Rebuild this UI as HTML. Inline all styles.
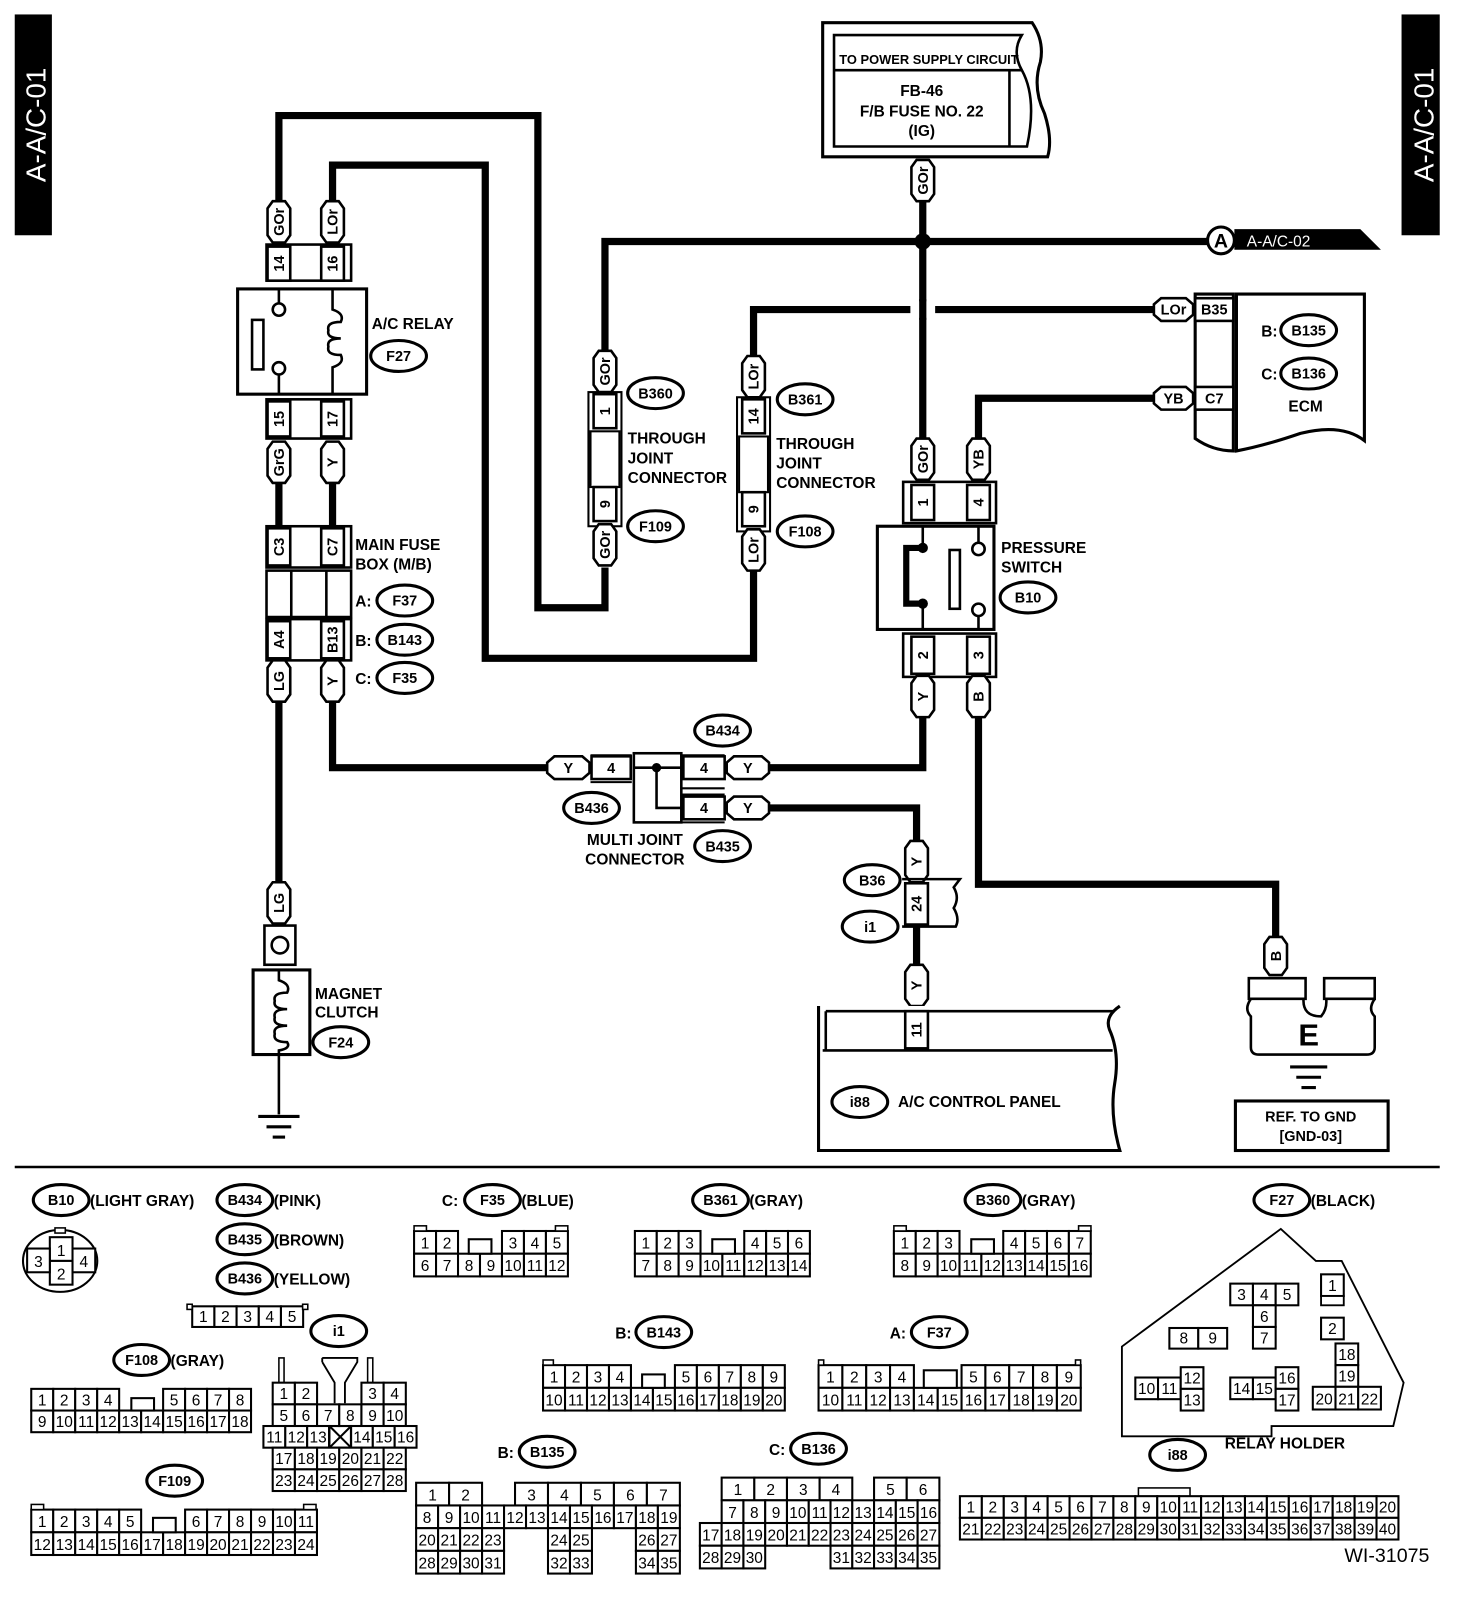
<!DOCTYPE html>
<html><head><meta charset="utf-8"><style>
html,body{margin:0;padding:0;background:#fff;width:1472px;height:1620px;overflow:hidden}
svg{display:block}
text{font-family:"Liberation Sans",sans-serif;fill:#000}
.b{font-weight:bold}
.n{font-family:"Liberation Sans Narrow","Liberation Sans",sans-serif;font-size:15px}
</style></head><body>
<svg id="s" width="1472" height="1620" viewBox="0 0 1426 1570" xmlns="http://www.w3.org/2000/svg"></svg>
<script>
let o='';
const K='stroke="#000" fill="none"';
function L(pts,w){o+=`<polyline points="${pts}" ${K} stroke-width="${w||7}" stroke-linejoin="miter"/>`;}
function R(x,y,w,h,sw,f){o+=`<rect x="${x}" y="${y}" width="${w}" height="${h}" stroke="#000" stroke-width="${sw||2.5}" fill="${f||'#fff'}"/>`;}
function T(x,y,s,sz,anc,cls,rot,fill){o+=`<text x="${x}" y="${y}" font-size="${sz||15}" text-anchor="${anc||'start'}" class="${cls===undefined?'b':cls}" ${rot?`transform="rotate(-90 ${x} ${y})"`:''} ${fill?`style="fill:${fill}"`:''}>${s}</text>`;}
function VT(x,y1,y2,s){o+=`<polygon points="${x-11},${y1+7} ${x-6},${y1} ${x+6},${y1} ${x+11},${y1+7} ${x+11},${y2-7} ${x+6},${y2} ${x-6},${y2} ${x-11},${y2-7}" stroke="#000" stroke-width="2.5" fill="#fff"/>`;
 const cy=(y1+y2)/2;o+=`<text x="${x+5}" y="${cy}" font-size="14" text-anchor="middle" class="b" transform="rotate(-90 ${x+5} ${cy})">${s}</text>`;}
function HT(x1,x2,y,s){o+=`<polygon points="${x1+7},${y-11} ${x2-7},${y-11} ${x2},${y-5} ${x2},${y+5} ${x2-7},${y+11} ${x1+7},${y+11} ${x1},${y+5} ${x1},${y-5}" stroke="#000" stroke-width="2.5" fill="#fff"/>`;T((x1+x2)/2,y+5,s,14,'middle');}
function VP(x,y1,y2,s){R(x-11,y1,22,y2-y1);const cy=(y1+y2)/2;o+=`<text x="${x+5}" y="${cy}" font-size="14" text-anchor="middle" class="b" transform="rotate(-90 ${x+5} ${cy})">${s}</text>`;}
function HP(x1,x2,y,s){R(x1,y-11,x2-x1,22);T((x1+x2)/2,y+5,s,14,'middle');}
function OV(cx,cy,s){o+=`<ellipse cx="${cx}" cy="${cy}" rx="27" ry="15" stroke="#000" stroke-width="3" fill="#fff"/>`;T(cx,cy+5,s,14,'middle');}
function G(x,y,cw,ch,rows){rows.forEach((r,ri)=>{let cx=x;r.split(' ').forEach(c=>{let [t,w]=c.split(':');w=w?parseFloat(w):1;if(t!=='_'){R(cx,y+ri*ch,cw*w,ch,2);T(cx+cw*w/2,y+ri*ch+ch-5,t,15,'middle','n');}cx+=cw*w;});});}

// side tabs
o+=`<rect x="14" y="14" width="36" height="214" fill="#000"/><rect x="1358" y="14" width="37" height="214" fill="#000"/>`;
T(44,121,'A-A/C-01',27,'middle','',1,'#fff');T(1389,121,'A-A/C-01',27,'middle','',1,'#fff');

// wires
L('586,550 586,589 521,589 521,112 270,112 270,198');
L('730,552 730,638 470,638 470,160 322,160 322,198');
L('586,342 586,234 1172,234');
L('894,195 894,428');
L('730,347 730,300 1120,300');
o+=`<rect x="882" y="292" width="24" height="16" fill="#fff"/>`;L('894,290 894,310');
L('948,428 948,386 1120,386');
L('270,468 270,510');L('322,468 322,510');
L('270,680 270,858');
L('322,680 322,744 532,744');
L('894,695 894,744 743,744');
L('743,783 888,783 888,818');
L('888,895 888,938');
L('948,695 948,857 1236,857 1236,912');
o+=`<circle cx="894" cy="234" r="8" fill="#000"/>`;

// power supply box
o+=`<path d="M797,22 L1000,22 Q1012,40 1008,60 Q1000,85 1012,110 Q1020,135 1015,152 L797,152 Z" stroke="#000" stroke-width="3" fill="#fff"/>`;
o+=`<path d="M808,34 L990,34 Q980,50 990,68 L808,68 Z M808,68 L990,68 Q1005,95 995,142 L808,142 Z" stroke="#000" stroke-width="2.5" fill="none"/>`;
o+=`<line x1="978" y1="68" x2="978" y2="142" stroke="#000" stroke-width="2.5"/>`;
T(900,62,'TO POWER SUPPLY CIRCUIT',12.5,'middle');
T(893,93,'FB-46',15,'middle');T(893,113,'F/B FUSE NO. 22',15,'middle');T(893,132,'(IG)',15,'middle');
VT(894,155,195,'GOr');

// A connector
o+=`<polygon points="1196,222 1318,222 1338,242 1196,242" fill="#000"/>`;
o+=`<circle cx="1183" cy="233" r="13" stroke="#000" stroke-width="3" fill="#fff"/>`;T(1183,240,'A',19,'middle');
T(1208,239,'A-A/C-02',15,'start','',0,'#fff');

// A/C relay
VT(270,195,235,'GOr');VT(322,195,235,'LOr');
R(258,237,82,35,2.5);VP(270,239,272,'14');VP(322,239,272,'16');
R(230,280,125,102,3);
o+=`<line x1="270" y1="280" x2="270" y2="294" stroke="#000" stroke-width="2.5"/><line x1="270" y1="363" x2="270" y2="382" stroke="#000" stroke-width="2.5"/>`;
o+=`<circle cx="270" cy="300" r="6" stroke="#000" stroke-width="2.5" fill="#fff"/><circle cx="270" cy="357" r="6" stroke="#000" stroke-width="2.5" fill="#fff"/>`;
R(244,310,11,48,2.5);
o+=`<path d="M322,280 L322,300 Q334,304 330,312 Q316,312 318,320 Q316,328 330,328 Q316,328 318,336 Q316,344 330,344 Q334,352 322,356 L322,382" ${K} stroke-width="2.5"/>`;
T(360,319,'A/C RELAY',15);OV(386,345,'F27');
R(258,387,82,38,2.5);VP(270,389,423,'15');VP(322,389,423,'17');
VT(270,428,468,'GrG');VT(322,428,468,'Y');

// main fuse box
R(258,510,82,40,2.5);VP(270,512,548,'C3');VP(322,512,548,'C7');
R(258,553,82,45,2.5);o+=`<line x1="282" y1="553" x2="282" y2="598" stroke="#000" stroke-width="2.5"/><line x1="316" y1="553" x2="316" y2="598" stroke="#000" stroke-width="2.5"/>`;
R(258,600,82,40,2.5);VP(270,602,638,'A4');VP(322,602,638,'B13');
T(344,533,'MAIN FUSE',15);T(344,552,'BOX (M/B)',15);
T(344,588,'A:',15);OV(392,582,'F37');T(344,626,'B:',15);OV(392,620,'B143');T(344,663,'C:',15);OV(392,657,'F35');
VT(270,640,680,'LG');VT(322,640,680,'Y');

// magnet clutch
VT(270,855,895,'LG');
R(256,897,30,38,2.5);o+=`<circle cx="271" cy="916" r="8" stroke="#000" stroke-width="2.5" fill="#fff"/>`;
R(245,940,55,82,3);
o+=`<path d="M270,940 L270,950 Q282,954 278,962 Q264,962 266,970 Q264,978 278,978 Q264,978 266,986 Q264,994 278,994 Q264,994 266,1002 Q264,1010 278,1010 Q282,1016 270,1018 L270,1022" ${K} stroke-width="2.5"/>`;
T(305,968,'MAGNET',15);T(305,986,'CLUTCH',15);OV(330,1010,'F24');
L('270,1022 270,1080',2.5);
o+=`<line x1="250" y1="1082" x2="290" y2="1082" stroke="#000" stroke-width="3"/><line x1="258" y1="1092" x2="282" y2="1092" stroke="#000" stroke-width="3"/><line x1="264" y1="1102" x2="276" y2="1102" stroke="#000" stroke-width="3"/>`;

// B360 / B361 through joint
function TJ(x,t1,p1,p2,t2,o1,o2,txt,ya){VT(x,t1,t1+40,ya);R(x-16,p1-2,32,p2-p1+40,2);
 o+=`<rect x="${x-14}" y="${p1+36}" width="28" height="${p2-p1-36}" stroke="#000" stroke-width="2" fill="#fff"/>`;
 VP(x,p1,p1+33,o1);VP(x,p2,p2+33,o2);VT(x,p2+36,p2+76,ya);}
TJ(586,340,382,472,0,'1','9',0,'GOr');
OV(635,381,'B360');OV(635,510,'F109');T(608,430,'THROUGH',15);T(608,449,'JOINT',15);T(608,468,'CONNECTOR',15);
TJ(730,345,387,477,0,'14','9',0,'LOr');
OV(780,387,'B361');OV(780,515,'F108');T(752,435,'THROUGH',15);T(752,454,'JOINT',15);T(752,473,'CONNECTOR',15);

// ECM
HT(1118,1156,300,'LOr');HT(1118,1156,386,'YB');
o+=`<path d="M1158,285 L1195,285 L1195,437 Q1175,437 1158,425 Z" stroke="#000" stroke-width="3" fill="#fff"/>`;
HP(1158,1195,300,'B35');HP(1158,1195,386,'C7');
o+=`<path d="M1198,285 L1322,285 L1322,427 Q1300,410 1260,420 Q1225,432 1198,437 Z" stroke="#000" stroke-width="3" fill="#fff"/>`;
T(1222,326,'B:',15);OV(1268,320,'B135');T(1222,368,'C:',15);OV(1268,362,'B136');T(1265,399,'ECM',15,'middle');

// pressure switch
VT(894,425,465,'GOr');VT(948,425,465,'YB');
R(875,467,90,40,2.5);VP(894,470,504,'1');VP(948,470,504,'4');
R(850,510,113,100,3);
o+=`<line x1="894" y1="510" x2="894" y2="530" stroke="#000" stroke-width="2.5"/><line x1="894" y1="585" x2="894" y2="610" stroke="#000" stroke-width="2.5"/>`;
o+=`<path d="M894,531 L878,531 L878,585 L894,585" ${K} stroke-width="6"/><circle cx="894" cy="531" r="5" fill="#000"/><circle cx="894" cy="585" r="5" fill="#000"/>`;
R(920,533,10,57,2.5);
o+=`<line x1="948" y1="510" x2="948" y2="526" stroke="#000" stroke-width="2.5"/><line x1="948" y1="597" x2="948" y2="610" stroke="#000" stroke-width="2.5"/>`;
o+=`<circle cx="948" cy="532" r="6" stroke="#000" stroke-width="2.5" fill="#fff"/><circle cx="948" cy="591" r="6" stroke="#000" stroke-width="2.5" fill="#fff"/>`;
T(970,536,'PRESSURE',15);T(970,555,'SWITCH',15);OV(996,579,'B10');
R(875,614,90,42,2.5);VP(894,617,653,'2');VP(948,617,653,'3');
VT(894,655,695,'Y');VT(948,655,695,'B');

// multi joint
HT(530,571,744,'Y');
o+=`<path d="M572,732 L612,732 M572,758 L612,758 M660,732 L702,732 M660,797 L702,797 M660,764 L702,764 M660,770 L702,770" ${K} stroke-width="2"/>`;
HP(573,611,744,'4');
R(614,730,46,67,2.5);
o+=`<path d="M614,744 L660,744 M636,744 L636,783 L660,783" ${K} stroke-width="2.5"/><circle cx="636" cy="744" r="4.5" fill="#000"/>`;
HP(662,702,744,'4');HP(662,702,783,'4');HT(704,745,744,'Y');HT(704,745,783,'Y');
OV(700,708,'B434');OV(573,783,'B436');OV(700,820,'B435');
T(615,819,'MULTI JOINT',15,'middle');T(615,838,'CONNECTOR',15,'middle');

// B36 / i1
VT(888,815,855,'Y');
o+=`<path d="M874,852 L930,852 L924,860 Q930,870 924,880 Q930,890 926,898 L874,898" ${K} stroke-width="2.5"/>`;
VP(888,856,896,'24');OV(845,853,'B36');OV(843,898,'i1');
VT(888,935,975,'Y');

// A/C control panel
o+=`<path d="M793,975 L793,1115 L1085,1115 Q1075,1080 1080,1050 Q1085,1020 1075,998 Q1070,985 1085,975" stroke="#000" stroke-width="3" fill="#fff"/>`;
o+=`<path d="M800,980 L1080,980 M797,1018 L1078,1018 M800,980 L800,1018" ${K} stroke-width="2.5"/>`;
VP(888,980,1016,'11');
OV(833,1068,'i88');T(870,1073,'A/C CONTROL PANEL',15);

// ground E
VT(1236,908,945,'B');
o+=`<path d="M1210,948 L1265,948 L1265,968 L1210,968 Z M1283,948 L1332,948 L1332,968 L1283,968 Z" stroke="#000" stroke-width="2.5" fill="#fff"/>`;
o+=`<path d="M1212,968 Q1205,978 1212,985 L1212,1015 Q1212,1022 1220,1022 L1324,1022 Q1332,1022 1332,1015 L1332,985 Q1325,978 1332,968 M1263,968 Q1262,985 1280,985 Q1286,978 1285,968" stroke="#000" stroke-width="2.5" fill="none"/>`;
T(1268,1013,'E',30,'middle');
o+=`<line x1="1250" y1="1034" x2="1286" y2="1034" stroke="#000" stroke-width="3"/><line x1="1256" y1="1044" x2="1280" y2="1044" stroke="#000" stroke-width="3"/><line x1="1261" y1="1054" x2="1275" y2="1054" stroke="#000" stroke-width="3"/>`;
R(1197,1067,148,48,3);T(1270,1087,'REF. TO GND',14,'middle');T(1270,1106,'[GND-03]',14,'middle');

// separator
o+=`<line x1="14" y1="1131" x2="1395" y2="1131" stroke="#000" stroke-width="2.5"/>`;

// legend
function LO(cx,cy,s,after){OV(cx,cy,s);if(after)T(cx+28,cy+6,after,15,'start','b');}
LO(59,1163,'B10','(LIGHT GRAY)');
o+=`<ellipse cx="58" cy="1222" rx="36" ry="30" stroke="#000" stroke-width="2" fill="#fff"/><rect x="53" y="1190" width="10" height="5" stroke="#000" stroke-width="1.5" fill="#fff"/>`;
G(48,1199,22,23,['1']);G(48,1222,22,23,['2']);G(26,1210,22,23,['3']);G(70,1210,22,23,['4']);
LO(237,1163,'B434','(PINK)');LO(237,1201,'B435','(BROWN)');LO(237,1239,'B436','(YELLOW)');
G(186,1266,21.5,20,['1 2 3 4 5']);R(181,1264,5,5,1.5);R(293,1264,5,5,1.5);
T(428,1169,'C:',15);LO(477,1163,'F35','(BLUE)');
G(401,1193,21.3,22,['1 2 _ _ 3 4 5','6 7 8 9 10 11 12']);R(454,1201,22,14,2);R(401,1188,12,5,1.5);R(538,1188,12,5,1.5);
LO(698,1163,'B361','(GRAY)');
G(615,1193,21.2,22,['1 2 3 _ _ 4 5 6','7 8 9 10 11 12 13 14']);R(690,1201,22,14,2);
LO(962,1163,'B360','(GRAY)');
G(866,1193,21.2,22,['1 2 3 _ _ 4 5 6 7','8 9 10 11 12 13 14 15 16']);R(941,1201,22,14,2);R(866,1188,12,5,1.5);R(1045,1188,12,5,1.5);
LO(1242,1163,'F27','(BLACK)');
o+=`<polygon points="1087,1305 1241,1191 1275,1222 1300,1222 1360,1340 1350,1382 1232,1382 1232,1392 1087,1392" stroke="#000" stroke-width="1.8" fill="none"/>`;
G(1192,1244,22,21,['3 4 5']);G(1214,1265,22,21,['6','7']);G(1280,1235,22,21,['1','_','2']);R(1280,1256,22,9,1.8);
G(1133,1287,28,20,['8 9']);G(1100,1335,22,21,['10 11']);G(1144,1325,22,21,['12','13']);
G(1192,1335,22,21,['14 15']);G(1236,1325,22,21,['16','17']);G(1294,1302,22,21,['18','19']);G(1272,1344,22,22,['20 21 22']);
T(1245,1404,'RELAY HOLDER',15,'middle');
OV(1141,1410,'i88');
R(1103,1442,50,8,1.5);
G(930,1450,21.25,21,['1 2 3 4 5 6 7 8 9 10 11 12 13 14 15 16 17 18 19 20','21 22 23 24 25 26 27 28 29 30 31 32 33 34 35 36 37 38 39 40']);
T(1385,1514,'WI-31075',19,'end','');

OV(328,1290,'i1');
o+=`<rect x="270" y="1316" width="5" height="24" stroke="#000" stroke-width="1.5" fill="#fff"/><rect x="356" y="1316" width="5" height="24" stroke="#000" stroke-width="1.5" fill="#fff"/>`;
o+=`<path d="M312,1316 L346,1316 L346,1320 L334,1340 L334,1360 M312,1320 L324,1340 L324,1360 M312,1316 L312,1320" ${K} stroke-width="1.8"/>`;
G(264,1340,21.5,21,['1 2 _ _ 3 4','5 6 7 8 9 10']);
G(255,1382,21.2,21,['11 12 13 _ 14 15 16']);
o+=`<path d="M319,1382 L340,1403 M340,1382 L319,1403" ${K} stroke-width="2"/><rect x="319" y="1382" width="21" height="21" ${K} stroke-width="2"/>`;
G(264,1403,21.5,21,['17 18 19 20 21 22','23 24 25 26 27 28']);

LO(137,1318,'F108','(GRAY)');
G(30,1346,21.3,21,['1 2 3 4 _ _ 5 6 7 8','9 10 11 12 13 14 15 16 17 18']);R(127,1355,22,12,2);
OV(169,1435,'F109');
G(30,1463,21.3,22,['1 2 3 4 5 _ _ 6 7 8 9 10 11','12 13 14 15 16 17 18 19 20 21 22 23 24']);R(148,1471,22,14,2);R(30,1458,12,5,1.5);R(294,1458,12,5,1.5);
T(596,1297,'B:',15);OV(643,1291,'B143');
G(526,1323,21.3,22,['1 2 3 4 _ _ 5 6 7 8 9','10 11 12 13 14 15 16 17 18 19 20']);R(622,1332,22,13,2);R(526,1318,10,5,1.5);
T(862,1297,'A:',15);OV(910,1291,'F37');
G(793,1323,23.1,22,['1 2 3 4 _ _ 5 6 7 8 9','10 11 12 13 14 15 16 17 18 19 20']);R(895,1328,32,17,2);R(793,1318,5,5,1.5);R(1042,1318,5,5,1.5);
T(482,1413,'B:',15);OV(530,1407,'B135');
G(403,1437,21.3,22,['1:1.5 2:1.5 _:1.5 3:1.5 4:1.5 5:1.5 6:1.5 7:1.5','8 9 10 11 12 13 14 15 16 17 18 19','20 21 22 23 _ _ 24 25 _ _ 26 27','28 29 30 31 _ _ 32 33 _ _ 34 35']);
T(745,1410,'C:',15);OV(793,1404,'B136');
G(678,1432,21.1,22,['_ 1:1.5 2:1.5 3:1.5 4:1.5 _ 5:1.5 6:1.5','_ 7 8 9 10 11 12 13 14 15 16','17 18 19 20 21 22 23 24 25 26 27','28 29 30 _ _ _ 31 32 33 34 35']);

document.getElementById('s').innerHTML=o;
</script>
</body></html>
